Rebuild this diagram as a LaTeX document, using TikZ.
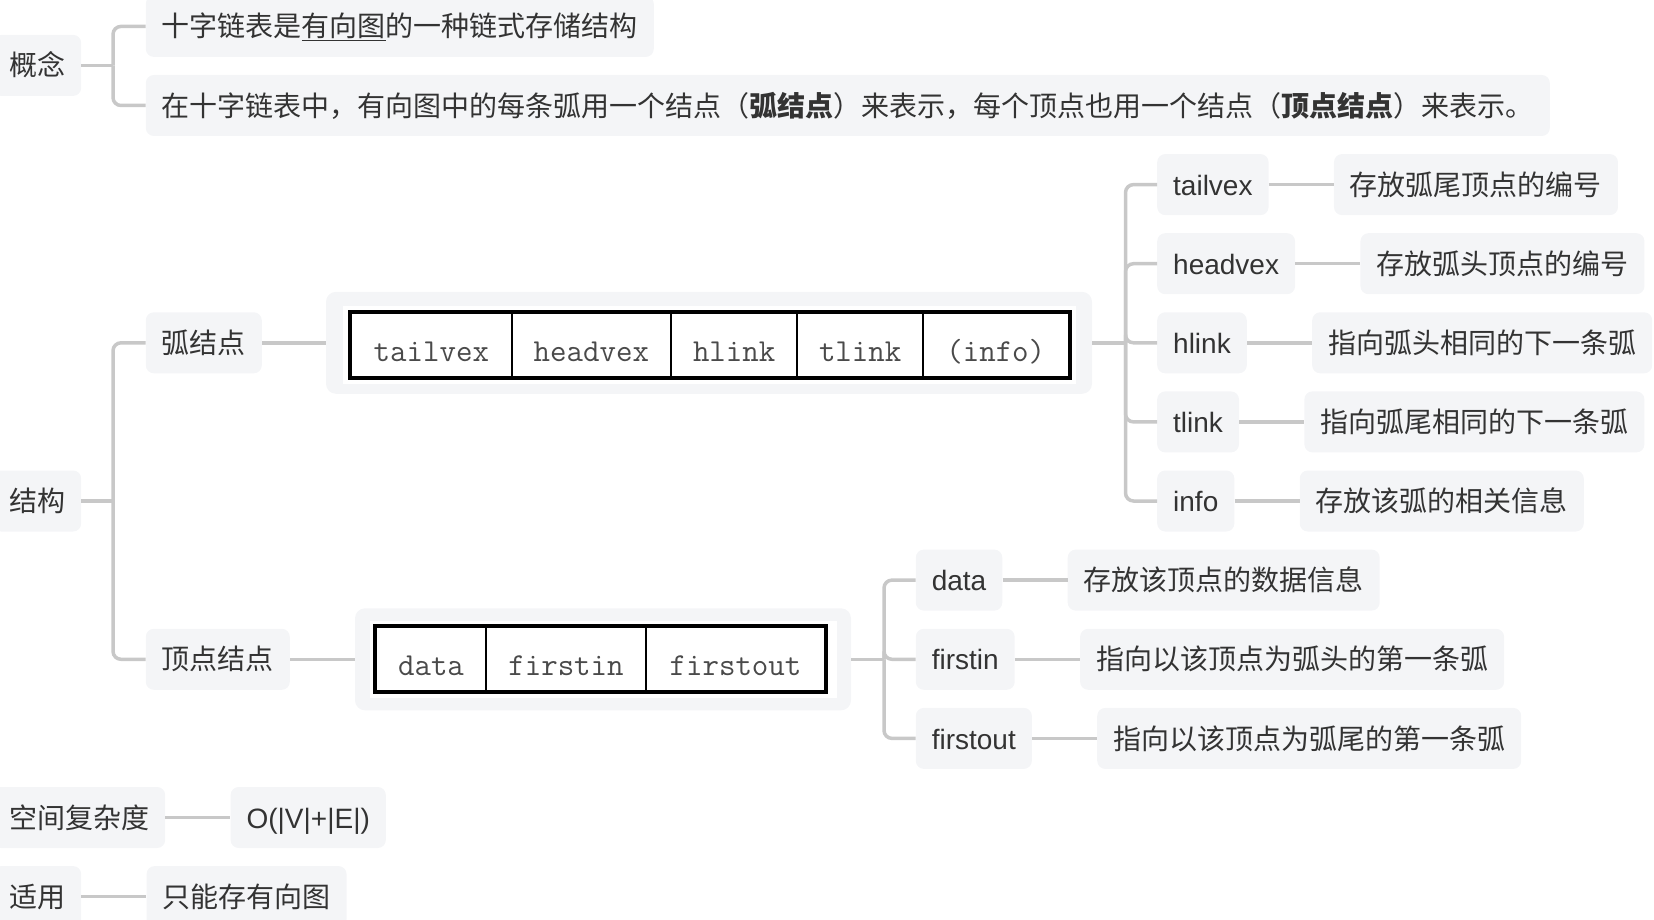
\documentclass[tikz,border=0pt]{standalone}
\usepackage{fontspec}
\setmainfont{Noto Sans CJK SC}
\newfontfamily\latinf{Liberation Sans}
\usepackage{xcolor}
\usepackage{tikz}
\usetikzlibrary{positioning}
\usetikzlibrary{calc}

\definecolor{boxgray}{HTML}{F4F5F7}
\definecolor{linegray}{HTML}{C8C8C8}
\definecolor{textgray}{HTML}{333333}
\definecolor{celltext}{HTML}{4A4A4A}

\tikzset{
	topic/.style={fill=boxgray, rounded corners=8pt, inner xsep=16pt, inner ysep=0pt,
			minimum height=61pt, text height=24.6pt, text depth=3.4pt, text=textgray,
			font=\fontsize{28}{34}\selectfont},
	field/.style={topic, font=\fontsize{28}{34}\selectfont\latinf},
	link/.style={draw=linegray, line width=3.5pt},
	cell/.style={draw=black, line width=2pt, minimum height=64pt, inner sep=0pt,
			text height=32pt, text depth=0pt, text=celltext,
			font=\fontsize{32}{36}\selectfont\ttfamily},
	imgbox/.style={fill=boxgray, rounded corners=10pt, minimum height=102pt, inner sep=0pt},
}

\begin{document}
\begin{tikzpicture}[x=1pt, y=-1pt]
		\useasboundingbox (0,0) rectangle (1654,920);
		\clip (0,0) rectangle (1654,920);

		% Concept
		\node[topic, anchor=west] (gn) at (-7,65.4) {概念};
		\node[topic, anchor=west] (gn1) at (145.6,26.4) {十字链表是\underline{有向图}的一种链式存储结构};
		\node[topic, anchor=west] (gn2) at (145.6,105.5) {在十字链表中，有向图中的每条弧用一个结点（\textbf{弧结点}）来表示，每个顶点也用一个结点（\textbf{顶点结点}）来表示。};
		\coordinate (gnj) at (113,65.4);
		\draw[link] (gn) -- (gnj);
		\foreach \c in {gn1, gn2} {
				\draw[link, rounded corners=8pt] (gnj) |- (\c.west);
			}

		% Structure
		\node[topic, anchor=west] (jg) at (-7,501) {结构};
		\node[topic, anchor=west] (hjd) at (145.6,342.8) {弧结点};
		\node[topic, anchor=west] (djd) at (145.6,659.3) {顶点结点};
		\coordinate (jgj) at (113,501);
		\draw[link] (jg) -- (jgj);
		\foreach \c in {hjd, djd} {
				\draw[link, rounded corners=8pt] (jgj) |- (\c.west);
			}

		% Arc node picture
		\node[imgbox, minimum width=766pt] (hpic) at (709,342.8) {};
		\fill[white] (343,306) rectangle (1076,384);
		\foreach \a/\b/\t [count=\i] in {351/511.6/tailvex, 511.6/671/headvex, 671/797.4/hlink, 797.4/923/tlink, 923/1068.5/(info)} {
				\node[cell, minimum width=\b-\a] (hc\i) at ({(\a+\b)/2},345) {\t};
			}
		\draw[line width=4pt] (hc1.north west) rectangle (hc5.south east);
		\draw[link] (hjd) -- (hpic);
		\coordinate (hj) at (1125.5,342.8);
		\draw[link] (hpic) -- (hj);

		% Arc node fields
		\foreach \n/\t/\d/\y in {tv/tailvex/存放弧尾顶点的编号/184.6, hv/headvex/存放弧头顶点的编号/263.7, hl/hlink/指向弧头相同的下一条弧/342.8, tl/tlink/指向弧尾相同的下一条弧/421.9, inf/info/存放该弧的相关信息/501} {
				\node[field, anchor=west] (\n) at (1157,\y) {\t};
				\node[topic, right=65pt of \n] (\n d) {\d};
				\draw[link] (\n) -- (\n d);
				\draw[link, rounded corners=8pt] (hj) |- (\n.west);
			}

		% Vertex node picture
		\node[imgbox, minimum width=496pt] (dpic) at (603,659.3) {};
		\fill[white] (370,621) rectangle (837,698);
		\foreach \a/\b/\t [count=\i] in {376/486/data, 486/646/firstin, 646/825/firstout} {
				\node[cell, minimum width=\b-\a] (dc\i) at ({(\a+\b)/2},659) {\t};
			}
		\draw[line width=4pt] (dc1.north west) rectangle (dc3.south east);
		\draw[link] (djd) -- (dpic);
		\coordinate (dj) at (884,659.3);
		\draw[link] (dpic) -- (dj);

		% Vertex node fields
		\foreach \n/\t/\d/\y in {da/data/存放该顶点的数据信息/580.1, fi/firstin/指向以该顶点为弧头的第一条弧/659.3, fo/firstout/指向以该顶点为弧尾的第一条弧/738.4} {
				\node[field, anchor=west] (\n) at (915.6,\y) {\t};
				\node[topic, right=65pt of \n] (\n d) {\d};
				\draw[link] (\n) -- (\n d);
				\draw[link, rounded corners=8pt] (dj) |- (\n.west);
			}

		% Space complexity and usage
		\node[topic, anchor=west] (kj) at (-7,817.5) {空间复杂度};
		\node[field, right=65pt of kj] (kjv) {O(|V|+|E|)};
		\draw[link] (kj) -- (kjv);
		\node[topic, anchor=west] (sy) at (-7,896.6) {适用};
		\node[topic, right=65pt of sy] (syv) {只能存有向图};
		\draw[link] (sy) -- (syv);
	\end{tikzpicture}
\end{document}
